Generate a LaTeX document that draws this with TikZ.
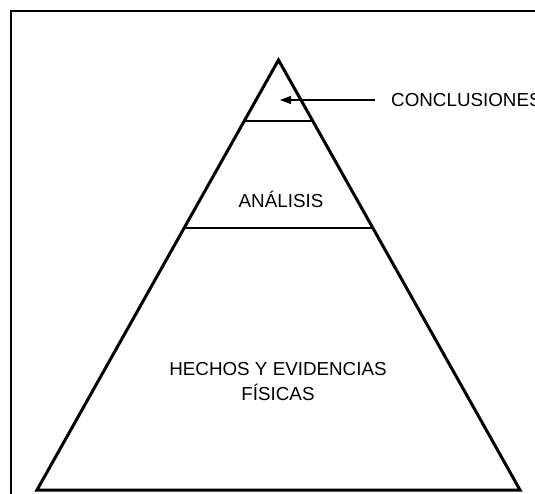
\documentclass[tikz,border=0pt]{standalone}
\usepackage{fontspec}
\setmainfont{Liberation Sans}
\usetikzlibrary{arrows.meta,calc}

\begin{document}
\begin{tikzpicture}[
    x=1pt, y=-1pt,
    frame/.style={draw=black, line width=1.3pt},
    side/.style={draw=black, line width=3pt, line join=miter},
    level/.style={draw=black, line width=2pt},
    pointer/.style={line width=1.3pt, -{Triangle[length=11pt,width=8pt]}},
    tag/.style={font=\fontsize{18.8}{25}\selectfont, text=black, inner sep=0pt}
]
    \useasboundingbox (0,0) rectangle (535,494);
    \draw[frame] (11,11) rectangle (560,520);
    \coordinate (apex) at (278.5,60);
    \coordinate (bl) at (37,490);
    \coordinate (br) at (520,490);
    \coordinate (top l) at ($(apex)!0.142!(bl)$);
    \coordinate (top r) at ($(apex)!0.142!(br)$);
    \coordinate (mid l) at ($(apex)!0.391!(bl)$);
    \coordinate (mid r) at ($(apex)!0.391!(br)$);
    \draw[side] (apex) -- (br) -- (bl) -- cycle;
    \draw[level] (top l) -- (top r);
    \draw[level] (mid l) -- (mid r);
    \node[tag] (analisis) at (281,199) {ANÁLISIS};
    \node[tag, align=center] (hechos) at (278,382) {HECHOS Y EVIDENCIAS\\FÍSICAS};
    \node[tag, anchor=west, inner xsep=16pt] (conclusiones) at (375,100) {CONCLUSIONES};
    \coordinate (tip) at (280,100);
    \draw[pointer] (conclusiones.west) -- (tip);
\end{tikzpicture}
\end{document}
